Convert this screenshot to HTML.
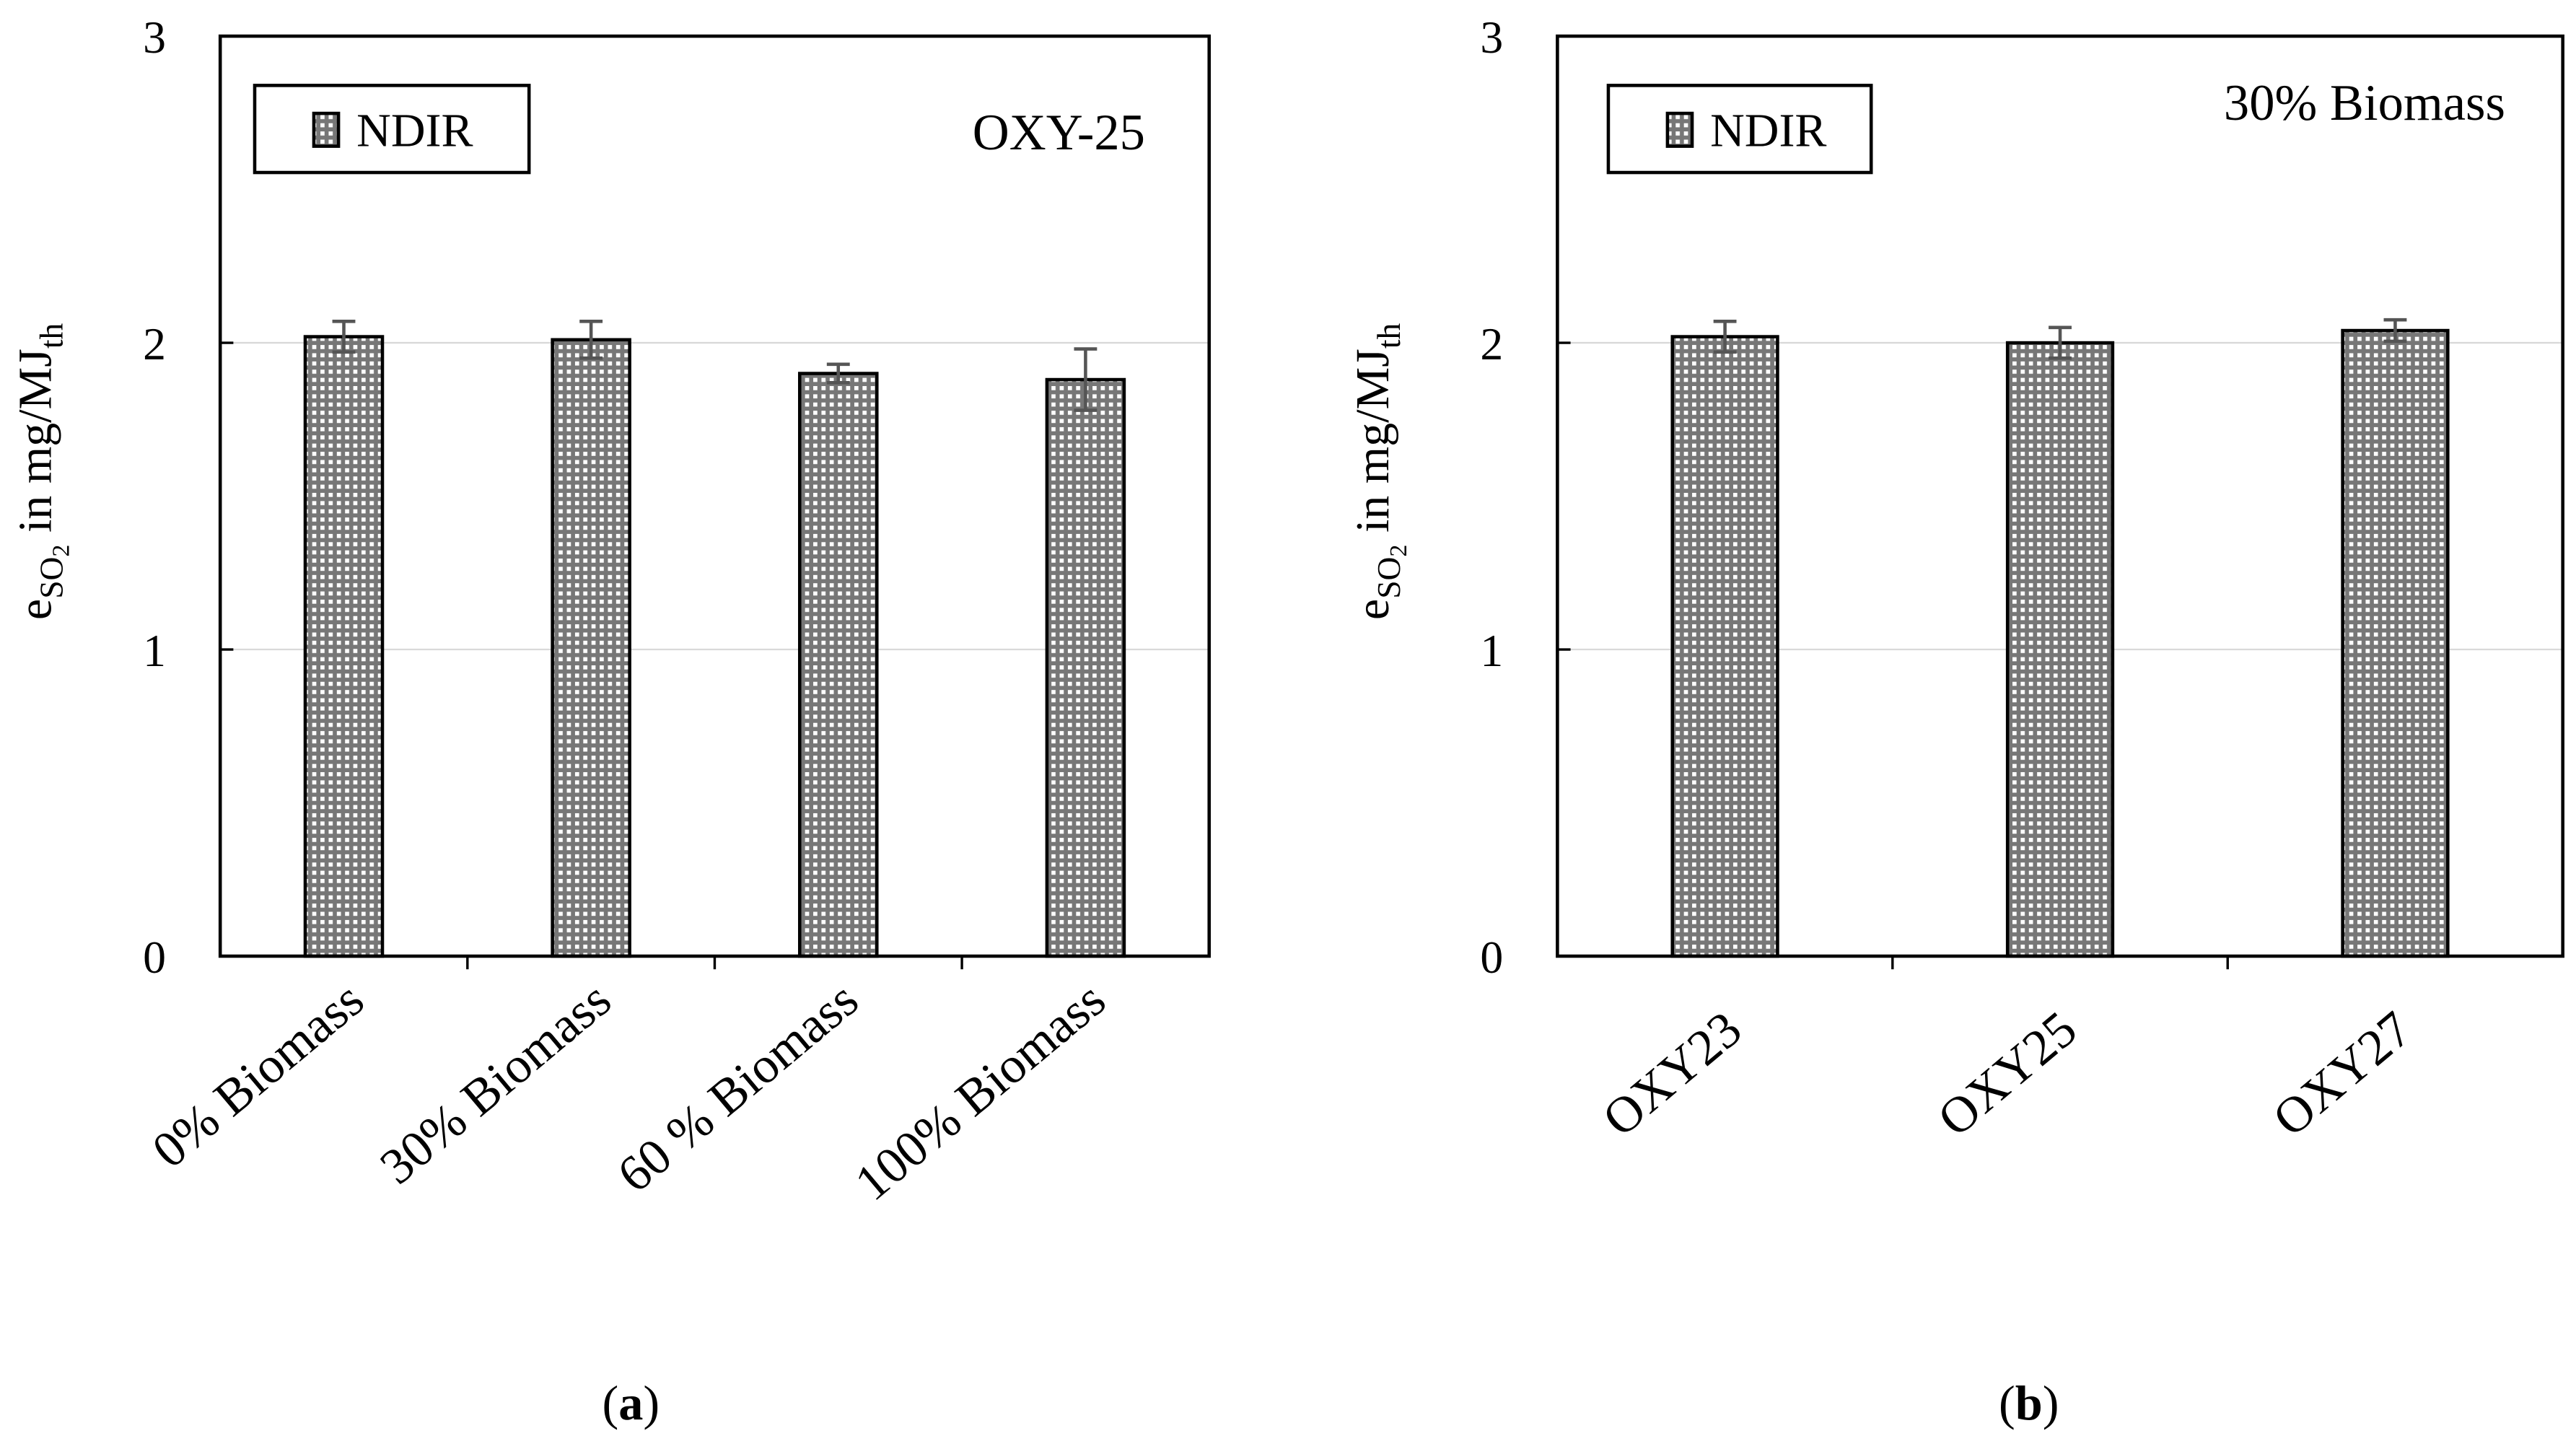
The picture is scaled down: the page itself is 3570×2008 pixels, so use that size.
<!DOCTYPE html>
<html><head><meta charset="utf-8"><style>html,body{margin:0;padding:0;background:#fff}svg{display:block}text{font-family:"Liberation Serif",serif;fill:#000}</style></head>
<body>
<svg id="chart" width="3570" height="2008" viewBox="0 0 1568 882" xmlns="http://www.w3.org/2000/svg">
<defs>
<pattern id="chk" width="5" height="5" patternUnits="userSpaceOnUse">
<rect width="5" height="5" fill="#777"/>
<rect x="0" y="0" width="2.5" height="2.5" fill="#fff"/>
</pattern>
</defs>
<g id="layer"></g>
</svg>
<script>
const catsA = ["0% Biomass","30% Biomass","60 % Biomass","100% Biomass"];
const valsA = [2.02, 2.01, 1.90, 1.88];
const errA = [0.05, 0.06, 0.03, 0.10];
const catsB = ["OXY23","OXY25","OXY27"];
const valsB = [2.02, 2.00, 2.04];
const errB = [0.05, 0.05, 0.035];
const yTicks = [0,1,2,3];

const NS="http://www.w3.org/2000/svg";
const layer=document.getElementById('layer');
function mk(t,a,p){const e=document.createElementNS(NS,t);for(const k in a)e.setAttribute(k,a[k]);(p||layer).appendChild(e);return e;}

function panel(o){
  const g=mk('g',{});
  
  
  const y=v=>o.bottom-(o.bottom-o.top)*v/3;
  const n=o.cats.length, cw=(o.right-o.left)/n;
  const x=i=>o.left+cw*(i+0.5);
  yTicks.forEach(t=>{
    if(t>0&&t<3){const gl=mk('line',{x1:o.left,x2:o.right,y1:y(t),y2:y(t),stroke:'#d9d9d9','stroke-width':1},g);
      
      }
    const tk=mk('line',{x1:o.left,x2:o.left+8,y1:y(t),y2:y(t),stroke:'#000','stroke-width':1.5},g);
    
    
    const tl=mk('text',{x:o.left-33,y:y(t)+10,'text-anchor':'end','font-size':28},g);
    tl.textContent=t;
    
    
  });
  for(let i=1;i<n;i++){
    const tk=mk('line',{x1:o.left+cw*i,x2:o.left+cw*i,y1:o.bottom,y2:o.bottom+8,stroke:'#000','stroke-width':1.5},g);
    
    
  }
  o.cats.forEach((c,i)=>{
    const v=o.vals[i], e=o.errs[i];
    const b=mk('rect',{x:x(i)-o.bw/2,y:y(v),width:o.bw,height:o.bottom-y(v),fill:'url(#chk)',stroke:'#000','stroke-width':2},g);
    
    
    const eb=mk('path',{d:`M${x(i)},${y(v+e)}V${y(v-e)}M${x(i)-7},${y(v+e)}H${x(i)+7}M${x(i)-7},${y(v-e)}H${x(i)+7}`,stroke:'#555','stroke-width':2,fill:'none'},g);
    
    
    const lx=x(i)+o.lx, ly=o.bottom+o.ly;
    const t=mk('text',{x:lx,y:ly,'text-anchor':'end','font-size':31,transform:`rotate(-40 ${lx} ${ly})`},g);
    t.textContent=c;
    
    
  });
  const fr=mk('rect',{x:o.left,y:o.top,width:o.right-o.left,height:o.bottom-o.top,fill:'none',stroke:'#000','stroke-width':2},g);
  
  
  const lg=mk('g',{},g);
  
  
  mk('rect',{x:o.left+o.legX,y:52,width:o.legW,height:53,fill:'#fff',stroke:'#000','stroke-width':2},lg);
  mk('rect',{x:o.left+o.legX+36,y:69,width:15,height:20,fill:'url(#chk)',stroke:'#000','stroke-width':2},lg);
  const lt=mk('text',{x:o.left+o.legX+62,y:89,'font-size':29},lg);lt.textContent='NDIR';
  
  
  const an=mk('text',{x:o.annX,y:o.annY,'text-anchor':'end','font-size':31},g);an.textContent=o.ann;
  
  
  const yx=o.left-103, yy=(o.top+o.bottom)/2-15;
  const yt=mk('text',{x:yx,y:yy,'text-anchor':'middle','font-size':29,transform:`rotate(-90 ${yx} ${yy})`},g);
  yt.innerHTML='e<tspan font-size="20" dy="7">SO</tspan><tspan font-size="15" dy="4">2</tspan><tspan dy="-11"> in mg/MJ</tspan><tspan font-size="20" dy="7">th</tspan>';
  
  
  const cap=mk('text',{x:o.capX,y:864,'text-anchor':'middle','font-size':30},g);
  cap.innerHTML='(<tspan font-weight="bold">'+o.cap+'</tspan>)';
  
  
}
panel({name:'panel-a',left:134,right:736,top:22,bottom:582,cats:catsA,vals:valsA,errs:errA,bw:47,lx:14,ly:30,legX:21,legW:167,ann:'OXY-25',annX:697,annY:91,capX:384,cap:'a'});
panel({name:'panel-b',left:948,right:1560,top:22,bottom:582,cats:catsB,vals:valsB,errs:errB,bw:64,lx:12,ly:48,legX:31,legW:160,ann:'30% Biomass',annX:1525,annY:73,capX:1235,cap:'b'});
</script>
</body></html>
